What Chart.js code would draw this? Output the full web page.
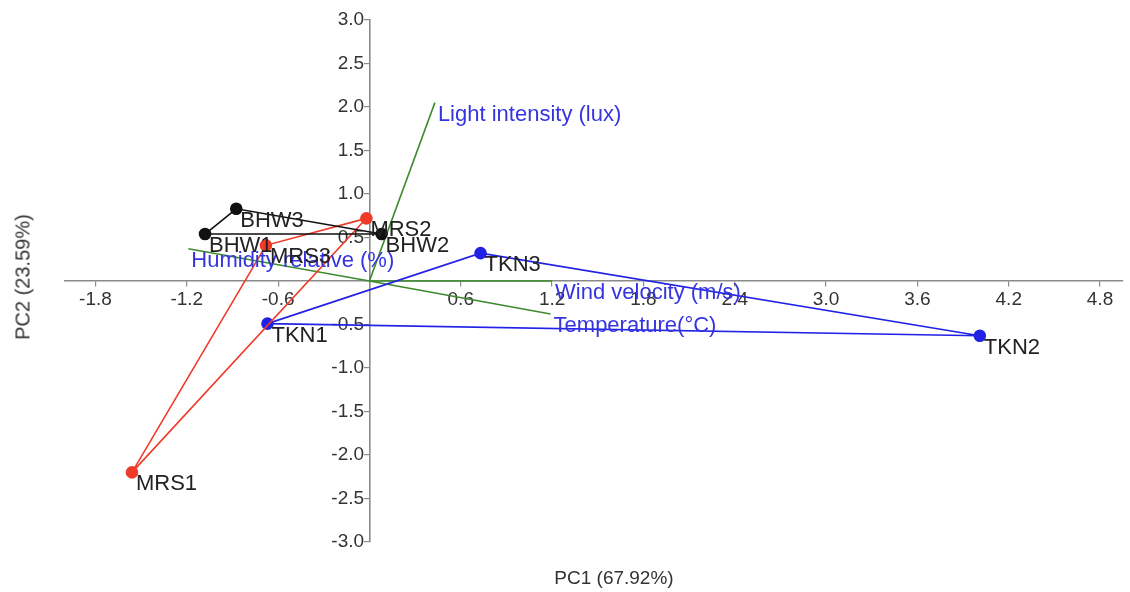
<!DOCTYPE html>
<html>
<head>
<meta charset="utf-8">
<script src="https://cdn.jsdelivr.net/npm/chart.js@4/dist/chart.umd.min.js"></script>
<style>
  html, body { margin: 0; padding: 0; background: #fff; }
  #wrap { position: relative; width: 1130px; height: 592px; }
  .axis-title { position: absolute; font: 19px "Liberation Sans", Arial, sans-serif; color: #333; white-space: nowrap; }
  #xTitle { left: 614px; top: 578px; transform: translate(-50%, -50%); }
  #yTitle { left: 23px; top: 277px; font-size: 20px; transform: translate(-50%, -50%) rotate(-90deg); }
</style>
</head>
<body>
<div id="wrap">
  <canvas id="pca" width="1130" height="592"></canvas>
  <div class="axis-title" id="xTitle">PC1 (67.92%)</div>
  <div class="axis-title" id="yTitle">PC2 (23.59%)</div>
</div>
<script>
// sample scores (hull order, closed later)
const bhwNames = ['BHW1', 'BHW3', 'BHW2'];
const bhwPC1 = [-1.08, -0.875, 0.08];
const bhwPC2 = [0.54, 0.83, 0.54];

const mrsNames = ['MRS1', 'MRS3', 'MRS2'];
const mrsPC1 = [-1.56, -0.68, -0.02];
const mrsPC2 = [-2.20, 0.41, 0.72];

const tknNames = ['TKN1', 'TKN3', 'TKN2'];
const tknPC1 = [-0.67, 0.73, 4.01];
const tknPC2 = [-0.49, 0.32, -0.63];

// environmental loadings
const vecNames = ['Light intensity (lux)', 'Humidity relative (%)', 'Wind velocity (m/s)', 'Temperature(°C)'];
const vecPC1 = [0.43, -1.19, 1.20, 1.19];
const vecPC2 = [2.05, 0.37, 0.0, -0.38];

// tick labels
const xTicks = [-1.8, -1.2, -0.6, 0, 0.6, 1.2, 1.8, 2.4, 3.0, 3.6, 4.2, 4.8];
const yTicks = [-3.0, -2.5, -2.0, -1.5, -1.0, -0.5, 0, 0.5, 1.0, 1.5, 2.0, 2.5, 3.0];

const FONT = '"Liberation Sans", Arial, sans-serif';
const axisGray = '#8a8a8a';

function hull(xs, ys) {
    const pts = xs.map((x, i) => ({ x: x, y: ys[i] }));
    pts.push({ x: xs[0], y: ys[0] });
    return pts;
}

function group(names, xs, ys, color) {
    return {
        label: names[0].slice(0, 3),
        names: names,
        data: hull(xs, ys),
        showLine: true,
        borderColor: color,
        backgroundColor: color,
        borderWidth: 1.6,
        pointRadius: xs.map(() => 5.5).concat([0]),
        pointHoverRadius: 5.5,
        order: 1
    };
}

const vectorSets = vecNames.map((name, i) => ({
    label: name,
    vecLabel: name,
    data: [{ x: 0, y: 0 }, { x: vecPC1[i], y: vecPC2[i] }],
    showLine: true,
    borderColor: '#3d8b2d',
    borderWidth: 1.6,
    pointRadius: 0,
    order: 2
}));

// draws sample names and loading names next to the marks
const labelPlugin = {
    id: 'pcaLabels',
    afterDatasetsDraw(chart) {
        const ctx = chart.ctx;
        ctx.save();
        ctx.font = '22px ' + FONT;
        ctx.textAlign = 'left';
        ctx.textBaseline = 'middle';
        chart.data.datasets.forEach((ds, di) => {
            const meta = chart.getDatasetMeta(di);
            if (ds.names) {
                ctx.fillStyle = '#222';
                ds.names.forEach((n, i) => {
                    const p = meta.data[i];
                    ctx.fillText(n, p.x + 4, p.y + 12);
                });
            } else if (ds.vecLabel) {
                ctx.fillStyle = '#3535e0';
                const p = meta.data[1];
                ctx.fillText(ds.vecLabel, p.x + 3, p.y + 12);
            }
        });
        ctx.restore();
    }
};

function fmt(v) {
    if (Math.abs(v) < 1e-9) return '';
    return v.toFixed(1);
}

const tickFont = { size: 19, family: FONT };

new Chart(document.getElementById('pca'), {
    type: 'scatter',
    data: {
        datasets: [
            ...vectorSets,
            group(bhwNames, bhwPC1, bhwPC2, '#111111'),
            group(mrsNames, mrsPC1, mrsPC2, '#f03a2a'),
            group(tknNames, tknPC1, tknPC2, '#2222e6')
        ]
    },
    options: {
        responsive: false,
        animation: false,
        layout: { padding: { left: 65, right: 7, top: 20, bottom: 50 } },
        plugins: {
            legend: { display: false },
            tooltip: { enabled: false }
        },
        scales: {
            x: {
                type: 'linear',
                position: { y: 0 },
                min: -2.0,
                max: 4.95,
                grid: { drawOnChartArea: false, drawTicks: true, tickLength: 5, color: axisGray, lineWidth: 1.2 },
                border: { display: true, color: axisGray, width: 1.6 },
                ticks: { color: '#333', font: tickFont, padding: 2, autoSkip: false, maxRotation: 0, callback: fmt },
                afterBuildTicks: s => { s.ticks = xTicks.map(v => ({ value: v })); },
                afterFit: s => { s.height = 0; }
            },
            // y axis line and tick marks
            y: {
                type: 'linear',
                position: { x: 0 },
                min: -3,
                max: 3,
                grid: { drawOnChartArea: false, drawTicks: true, tickLength: 5, color: axisGray, lineWidth: 1.2 },
                border: { display: true, color: axisGray, width: 1.6 },
                ticks: { autoSkip: false, callback: () => '' },
                afterBuildTicks: s => { s.ticks = yTicks.map(v => ({ value: v })); },
                afterFit: s => { s.width = 0; }
            },
            // y tick labels, set just left of the tick marks
            yLab: {
                type: 'linear',
                axis: 'y',
                position: { x: -0.035 },
                min: -3,
                max: 3,
                grid: { display: false },
                border: { display: false },
                ticks: { color: '#333', font: tickFont, autoSkip: false, callback: fmt },
                afterBuildTicks: s => { s.ticks = yTicks.map(v => ({ value: v })); },
                afterFit: s => { s.width = 0; }
            }
        }
    },
    plugins: [labelPlugin]
});
</script>
</body>
</html>
